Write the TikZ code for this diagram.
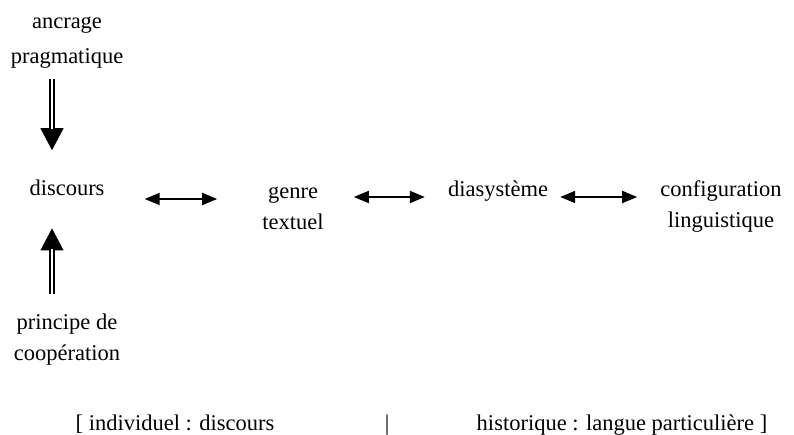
\documentclass[tikz,border=0pt]{standalone}
\usepackage{fontspec}
\setmainfont{Liberation Serif}
\usetikzlibrary{arrows.meta,positioning,calc}
\tikzset{lbl/.style={inner sep=0, align=center, font=\fontsize{22.5}{31}\selectfont}}
\tikzset{harr/.style={draw, {Triangle[length=15pt,width=12pt]}-{Triangle[length=15pt,width=12pt]}, line width=1.8pt}}
\tikzset{vtip/.style={draw, -{Triangle[length=22pt,width=23pt]}, line width=1pt}}
\tikzset{vshaft/.style={draw, double, line width=1.7pt, double distance=2.5pt}}

\begin{document}
\begin{tikzpicture}[x=1pt,y=-1pt]
	\useasboundingbox (0,0) rectangle (794,435);
	\node[lbl] (ancr) at (67,43) {ancrage\\[4pt]pragmatique};
	\node[lbl, anchor=base] (disc) at (67,196) {discours};
	\node[lbl] (coop) at (67,340) {principe de\\coopération};
	\node[lbl] (genre) at (293,208) {genre\\textuel};
	\node[lbl, anchor=base] (dia) at (498,197) {diasystème};
	\node[lbl] (conf) at (721,207) {configuration\\linguistique};
	
	\node[lbl, anchor=base] (indiv) at (175,430) {[ individuel : discours};
	\node[lbl, anchor=base] (sep) at (387,430) {|};
	\node[lbl, anchor=base] (hist) at (622,430) {historique : langue particulière ]};
	
	% double-shafted arrows into discours
	\draw[vtip, shorten <=10pt, shorten >=30pt] ([xshift=-15pt]ancr.south) -- ([xshift=-15pt]disc.north);
	\draw[vshaft, shorten <=10pt, shorten >=51pt] ([xshift=-15pt]ancr.south) -- ([xshift=-15pt]disc.north);
	\draw[vtip, shorten <=20pt, shorten >=32pt] ([xshift=-15pt]coop.north) -- ([xshift=-15pt]disc.south);
	\draw[vshaft, shorten <=20pt, shorten >=53pt] ([xshift=-15pt]coop.north) -- ([xshift=-15pt]disc.south);
	
	% the chain
	\draw[harr, shorten <=40pt, shorten >=45pt] ($(disc.base east)+(0,3)$) -- ($(disc.base east -| genre.west)+(0,3)$);
	\draw[harr, shorten <=30pt, shorten >=23pt] (dia.base west -| genre.east) -- (dia.base west);
	\draw[harr, shorten <=12pt, shorten >=23pt] (dia.base east) -- (dia.base east -| conf.west);
\end{tikzpicture}
\end{document}
